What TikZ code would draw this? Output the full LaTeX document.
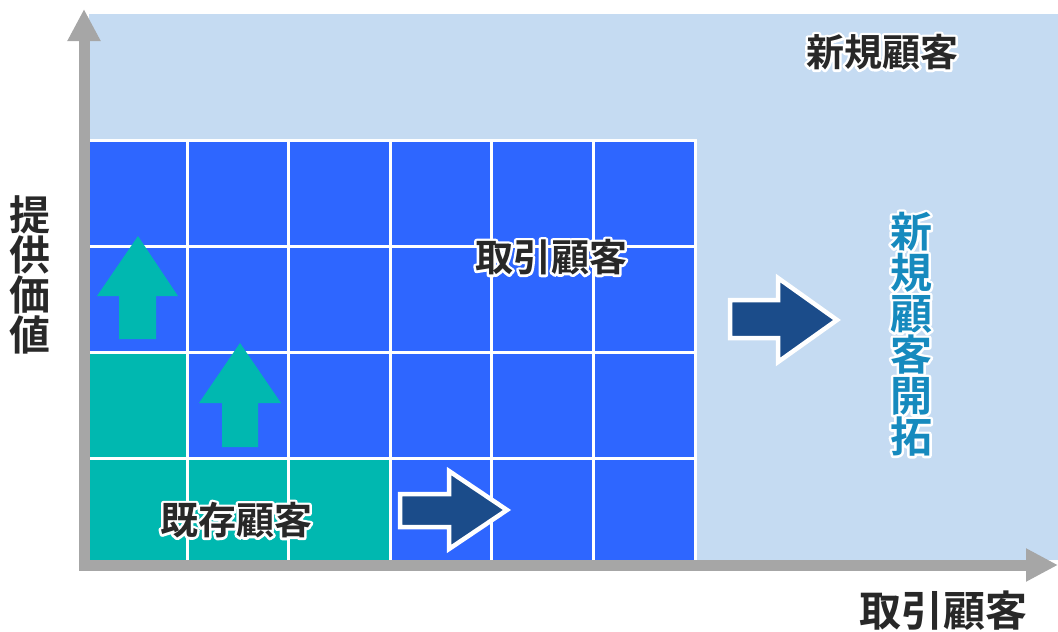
\documentclass[tikz,border=0pt]{standalone}
\usepackage{fontspec}
\setmainfont{Noto Sans CJK JP}[BoldFont={* Bold}]
\usetikzlibrary{arrows.meta,positioning}

\definecolor{skyback}{RGB}{197,219,242}
\definecolor{gridblue}{RGB}{46,102,255}
\definecolor{tealfill}{RGB}{0,184,176}
\definecolor{darkarrow}{RGB}{27,76,138}
\definecolor{axisgray}{RGB}{166,166,166}
\definecolor{darktext}{RGB}{40,40,40}
\definecolor{newtext}{RGB}{22,138,190}

% white halo: stroked copy underneath, filled copy on top
\newcommand{\glow}[1]{\leavevmode\rlap{\special{pdf:literal direct 1 Tr 1 j 1 J 5 w 1 1 1 RG}#1\special{pdf:literal direct 0 Tr}}#1}

\begin{document}
\begin{tikzpicture}[x=1pt,y=-1pt,
  every node/.style={font=\bfseries\fontsize{38}{41}\selectfont, text=darktext, inner sep=0pt, align=center},
  axis/.style={draw=axisgray, line width=11pt, -{Triangle[length=32pt 0 0, width=31pt 0 0]}},
  uparrow/.style={fill=tealfill},
  rightarrow/.style={fill=darkarrow, draw=white, line width=4.5pt, miter limit=10}]
  \useasboundingbox (0,0) rectangle (1058,632);

  % backgrounds
  \fill[skyback] (89,14) rectangle (1058,560);
  \fill[gridblue] (88,140) rectangle (695,560);
  \fill[tealfill] (88,458) rectangle (389,560);
  \fill[tealfill] (88,352) rectangle (187,458);

  % grid lines
  \foreach \gx in {187,288.6,390.2,491.8,593.4,695}
    \draw[white, line width=3pt] (\gx,140) -- (\gx,560);
  \foreach \gy in {140,246,352,458}
    \draw[white, line width=3pt] (88,\gy) -- (696.5,\gy);

  % block arrows
  \path[uparrow] (138,236) -- (178,296) -- (156,296) -- (156,339) -- (119,339) -- (119,296) -- (97,296) -- cycle;
  \path[uparrow] (240,343) -- (281,403) -- (258,403) -- (258,447) -- (222,447) -- (222,403) -- (199,403) -- cycle;
  \draw[rightarrow] (400,494) -- (449,494) -- (449,471) -- (507,510) -- (449,549) -- (449,527) -- (400,527) -- cycle;
  \draw[rightarrow] (730,300) -- (778,300) -- (778,278) -- (837,320) -- (778,362) -- (778,338) -- (730,338) -- cycle;

  % axes
  \coordinate (origin) at (84,570);
  \coordinate (ytop) at (84,9);
  \coordinate (xstart) at (79,565);
  \coordinate (xend) at (1058,565);
  \draw[axis] (origin) -- (ytop);
  \draw[axis] (xstart) -- (xend);

  % labels
  \node (newcust) at (882,52) {\glow{新規顧客}};
  \node (tradecust) at (551,257) {\glow{取引顧客}};
  \node (existcust) at (236,520) {\glow{既存顧客}};
  \node[text=newtext, font=\bfseries\fontsize{42}{41}\selectfont] (newopen) at (911,334)
    {\glow{新}\\\glow{規}\\\glow{顧}\\\glow{客}\\\glow{開}\\\glow{拓}};
  \node[font=\bfseries\fontsize{41}{40}\selectfont] (valueaxis) at (30,275) {提\\供\\価\\値};
  \node[font=\bfseries\fontsize{42}{42}\selectfont] (tradeaxis) at (943,611) {取引顧客};
\end{tikzpicture}
\end{document}
